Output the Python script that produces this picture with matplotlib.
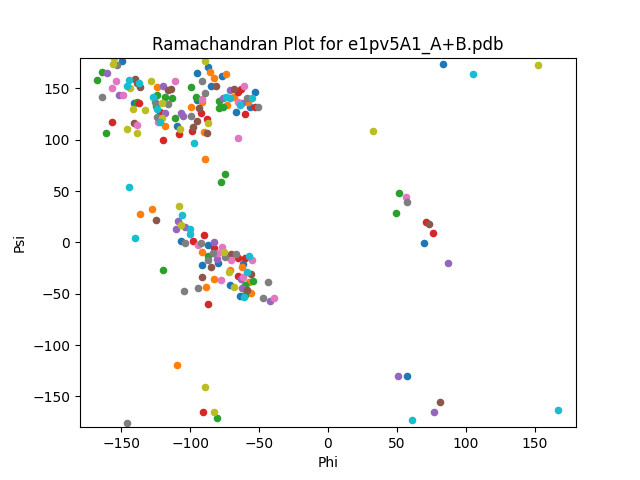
import matplotlib
matplotlib.use("Agg")
import matplotlib.pyplot as plt

# (phi, psi) pairs, grouped by the colour each residue got in the plot
blue = [(-149.3, 176.7), (-140.6, 135.5), (-109.8, 113.4), (-86.9, 171.1), (-94.8, 164.7),
        (-77.1, 161.8), (-85.1, 152.6), (-52.8, 146.2), (-94.8, 138.7), (-56.6, 132.2),
        (-67.0, 127.3), (-106.5, 1.1), (-86.9, -2.8), (-91.2, -22.3), (-79.6, -20.4),
        (-61.9, -21.3), (-71.1, -41.5), (-63.9, -52.2), (69.7, -0.9), (57.5, -130.4),
        (83.7, 173.5)]
orange = [(-123.9, 151.1), (-118.1, 113.4), (-85.6, 165.7), (-82.5, 159.8), (-74.2, 163.7),
          (-91.2, 137.0), (-68.0, 141.9), (-73.5, 133.8), (-57.8, 137.0), (-99.6, 131.6),
          (-89.8, 107.2), (-89.0, 81.0), (-136.4, 27.4), (-127.5, 32.2), (-91.2, -9.6),
          (-82.5, -35.9), (-62.6, -23.7), (-71.1, -26.9), (-57.1, -38.3), (-88.5, -43.7),
          (-55.9, -49.6), (-109.4, -119.7)]
green = [(-163.8, 166.3), (-167.4, 158.2), (-123.9, 143.6), (-118.3, 141.9), (-113.4, 140.3),
         (-138.4, 137.0), (-124.8, 133.2), (-111.0, 121.5), (-161.1, 106.3), (-99.6, 151.7),
         (-95.8, 141.9), (-78.9, 137.7), (-76.0, 132.2), (-78.9, 131.2), (-74.5, 66.3),
         (-77.4, 58.5), (-86.9, -13.5), (-119.5, -27.2), (-54.6, -37.6), (-60.2, -41.5),
         (-60.2, -51.2), (51.8, 47.8), (49.3, 28.3), (-80.3, -171.3)]
red = [(-137.4, 135.5), (-121.9, 126.7), (-156.5, 117.0), (-119.5, 99.7), (-108.1, 105.6),
       (-63.1, 149.4), (-65.5, 146.2), (-53.2, 131.6), (-60.4, 124.8), (-92.4, 125.7),
       (-87.6, 120.2), (-98.9, 108.5), (-89.8, 6.9), (-97.7, 1.1), (-82.5, -5.7),
       (-65.5, -15.5), (-60.4, -15.5), (-65.5, -32.4), (-86.9, -60.3), (71.1, 19.6),
       (76.4, 8.9), (-90.5, -165.5)]
purple = [(-160.6, 164.7), (-119.5, 152.3), (-151.5, 143.6), (-118.3, 125.7), (-71.1, 148.4),
          (-76.0, 140.9), (-62.2, 135.5), (-106.7, 125.7), (-105.4, 123.4), (-108.6, 20.6),
          (-103.6, 14.7), (-110.3, 12.8), (-82.5, 0.1), (-80.3, -15.9), (-63.4, -35.6),
          (-62.6, -44.7), (-42.1, -56.8), (87.3, -20.4), (51.0, -130.4), (77.1, -165.5)]
brown = [(-140.1, 159.2), (-138.4, 155.0), (-136.4, 151.7), (-116.3, 148.4), (-113.9, 149.4),
         (-140.6, 116.0), (-81.5, 152.6), (-68.0, 149.4), (-93.4, 130.6), (-94.8, 118.2),
         (-98.2, 112.7), (-88.0, 106.3), (-124.6, 21.5), (-84.7, -24.3), (-91.2, -34.0),
         (-70.4, -11.6), (-55.9, -30.8), (-58.6, -46.4), (73.5, 17.6), (81.5, -155.8)]
pink = [(-153.6, 157.2), (-157.0, 150.7), (-110.8, 157.2), (-148.5, 143.6), (-123.1, 117.0),
        (-138.8, 114.3), (-60.7, 152.6), (-91.7, 139.4), (-65.1, 136.5), (-65.5, 101.4),
        (-94.1, -2.8), (-79.6, -10.6), (-76.7, -4.5), (-70.4, -17.1), (-55.4, -17.4),
        (-61.5, -33.4), (-77.9, -36.6), (-39.0, -53.9), (56.4, 43.9)]
gray = [(-153.3, 172.8), (-163.8, 141.3), (-125.5, 137.0), (-115.9, 134.5), (-123.9, 121.8),
        (-91.2, 157.2), (-89.3, 145.2), (-58.6, 140.9), (-50.6, 132.2), (-99.6, 123.4),
        (-103.6, -0.9), (-92.4, -0.9), (-83.2, -10.0), (-86.9, -17.4), (-74.5, -14.5),
        (-66.8, -11.6), (-43.3, -38.9), (-46.9, -54.4), (-94.1, -44.7), (-104.3, -47.6),
        (57.1, 39.1), (-145.6, -175.9)]
olive = [(-155.1, 179.3), (-155.8, 173.8), (-143.7, 150.7), (-128.4, 157.2), (-120.2, 136.1),
         (-141.3, 129.9), (-132.8, 129.0), (-120.7, 121.5), (-145.6, 110.5), (-138.4, 106.3),
         (-107.4, 110.5), (-89.3, 176.7), (-86.9, 116.0), (-107.9, 35.5), (-106.9, 16.7),
         (-75.5, -9.6), (-71.8, -28.5), (-68.0, -43.1), (152.6, 172.5), (32.9, 108.2),
         (-89.0, -141.1), (-82.5, -165.5)]
cyan = [(-144.2, 158.2), (-136.9, 155.6), (-145.6, 152.3), (-126.8, 141.3), (-123.9, 129.6),
        (-121.9, 117.6), (-74.0, 141.9), (-71.1, 140.3), (-64.0, 133.8), (-55.2, 140.3),
        (-97.0, 96.5), (-144.2, 53.7), (-105.7, 26.4), (-100.1, 12.8), (-100.1, 7.9),
        (-139.8, 4.0), (-57.1, -13.2), (-59.0, -28.5), (-60.9, -52.9), (105.5, 163.7),
        (61.2, -173.3), (167.1, -163.5)]

groups = [blue, orange, green, red, purple, brown, pink, gray, olive, cyan]

fig, ax = plt.subplots(figsize=(6.4, 4.8), dpi=100)

for i, pts in enumerate(groups):
    phi = [p[0] for p in pts]
    psi = [p[1] for p in pts]
    ax.scatter(phi, psi, s=20, color=f"C{i}")

ax.set_xlim(-180, 180)
ax.set_ylim(-180, 180)
ax.set_xlabel("Phi")
ax.set_ylabel("Psi")
ax.set_title("Ramachandran Plot for e1pv5A1_A+B.pdb")

plt.savefig("out.png")
